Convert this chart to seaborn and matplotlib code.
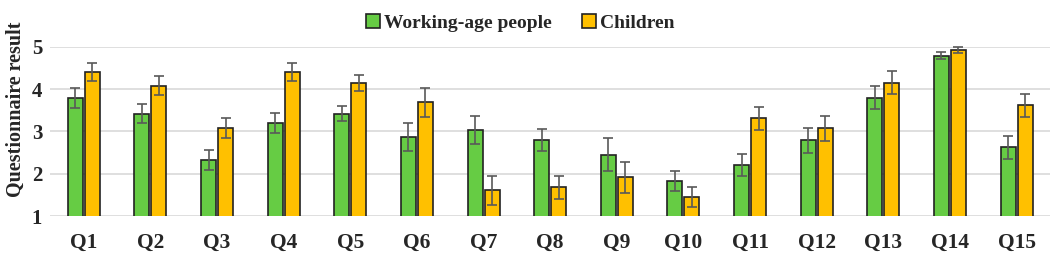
import numpy as np
import pandas as pd
import matplotlib
matplotlib.use("Agg")
import matplotlib.pyplot as plt
import seaborn as sns

# data
questions = ["Q%d" % i for i in range(1, 16)]
working = [3.79, 3.42, 2.33, 3.20, 3.42, 2.88, 3.04, 2.79, 2.45, 1.83, 2.21, 2.79, 3.79, 4.79, 2.63]
working_err = [0.23, 0.22, 0.24, 0.23, 0.18, 0.33, 0.33, 0.26, 0.39, 0.23, 0.27, 0.30, 0.27, 0.09, 0.27]
children = [4.40, 4.08, 3.08, 4.40, 4.15, 3.69, 1.61, 1.68, 1.92, 1.46, 3.31, 3.07, 4.15, 4.92, 3.62]
children_err = [0.22, 0.23, 0.24, 0.22, 0.19, 0.34, 0.34, 0.27, 0.36, 0.23, 0.27, 0.30, 0.27, 0.07, 0.27]
groups = ["Working-age people", "Children"]

df = pd.DataFrame({
    "question": questions * 2,
    "group": [groups[0]] * 15 + [groups[1]] * 15,
    "value": working + children,
    "err": working_err + children_err,
})

sns.set_theme(style="white")
plt.rcParams["font.family"] = ["Liberation Serif", "DejaVu Serif"]
plt.rcParams["font.weight"] = "bold"

fig, ax = plt.subplots(figsize=(10.52, 2.56), dpi=100)
fig.subplots_adjust(left=0.048, right=0.998, top=0.818, bottom=0.155)

ax.set_axisbelow(True)
ax.yaxis.grid(True, color="#d9d9d9", linewidth=1.2)

sns.barplot(data=df, x="question", y="value", hue="group", order=questions,
            hue_order=groups, palette=["#66cc44", "#ffc000"], saturation=1,
            width=0.51, gap=0.12, edgecolor="#222222", linewidth=1.2,
            errorbar=None, ax=ax)

# error bars at the seaborn bar positions
bars = [p for p in ax.patches if p.get_height() > 0][:30]
xs = [b.get_x() + b.get_width() / 2 for b in bars]
ys = [b.get_height() for b in bars]
ax.errorbar(xs, ys, yerr=df["err"].values, fmt="none", ecolor="#595959",
            elinewidth=1.2, capsize=3.5, capthick=1.2, clip_on=False, zorder=5)

ax.set_ylim(1, 5)
ax.set_xlim(-0.5, 14.5)
ax.set_yticks([1, 2, 3, 4, 5])
ax.set_xlabel("")
ax.set_ylabel("Questionnaire result", fontsize=14.5, fontweight="bold")
ax.yaxis.set_label_coords(-0.025, 0.63)
ax.tick_params(axis="x", labelsize=15.5, pad=12, length=0)
ax.tick_params(axis="y", labelsize=15, pad=6, length=0)
for lab in ax.get_xticklabels() + ax.get_yticklabels():
    lab.set_fontweight("bold")
sns.despine(ax=ax, left=True, bottom=True)

ax.legend(loc="lower center", bbox_to_anchor=(0.47, 1.04), ncol=2, frameon=False,
          prop={"size": 14, "weight": "bold"}, handlelength=0.7, handleheight=0.7,
          handletextpad=0.2, columnspacing=1.6, borderaxespad=0)

fig.savefig("out.png", dpi=100)
